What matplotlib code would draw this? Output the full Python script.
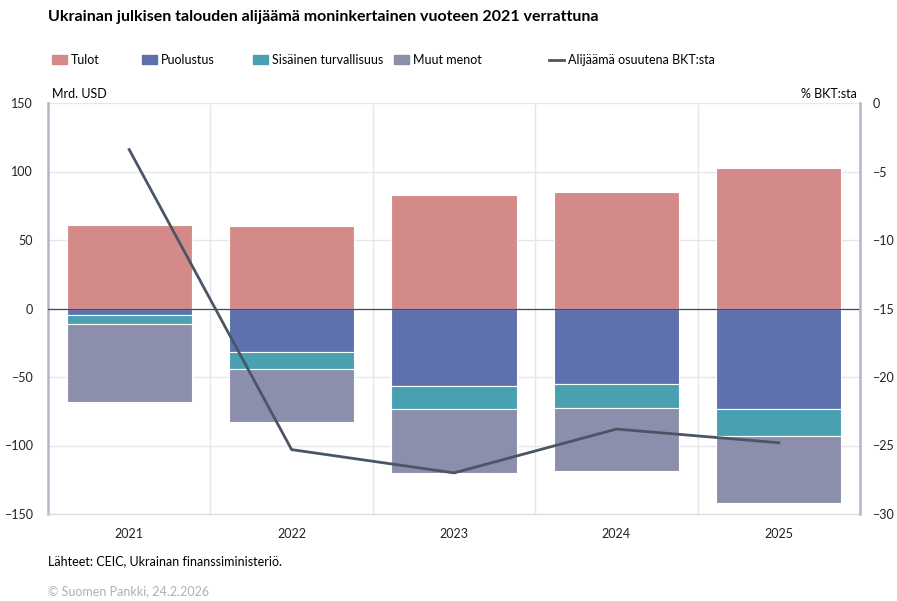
import numpy as np
import matplotlib.pyplot as plt
from matplotlib.patches import Patch
from matplotlib.lines import Line2D

plt.rcParams['font.family'] = ['Lato', 'DejaVu Sans']

# data
vuodet = ['2021', '2022', '2023', '2024', '2025']
tulot = [60.6, 59.9, 83.2, 85.4, 102.2]
puolustus = [-4.6, -31.4, -56.7, -55.2, -73.2]
sisainen = [-6.4, -12.6, -16.3, -17.5, -20.0]
muut = [-57.0, -39.0, -47.0, -45.8, -49.0]
alijaama = [-3.4, -25.3, -27.0, -23.8, -24.8]

c_tulot = '#d48a88'
c_puol = '#5e71ad'
c_sis = '#48a0b0'
c_muut = '#8c8fac'
c_line = '#4a5566'
grid = '#e6e6ea'

fig = plt.figure(figsize=(8.97, 6.01), dpi=100)
ax = fig.add_axes([48/897, 87/601, 812/897, 411/601])

x = np.arange(len(vuodet))
w = 0.77
ek = dict(edgecolor='white', linewidth=0.8, zorder=2)
ax.bar(x, tulot, w, color=c_tulot, **ek)
ax.bar(x, puolustus, w, color=c_puol, **ek)
b1 = np.array(puolustus)
ax.bar(x, sisainen, w, bottom=b1, color=c_sis, **ek)
b2 = b1 + np.array(sisainen)
ax.bar(x, muut, w, bottom=b2, color=c_muut, **ek)
ax.axhline(0, color='#3d4a7a', lw=0.9, zorder=3)

ax.set_xlim(-0.5, len(vuodet) - 0.5)
ax.set_ylim(-150, 150)
ax.set_yticks(range(-150, 151, 50))
ax.set_xticks(x)
ax.set_xticklabels(vuodet)
ax.set_xticks(x[:-1] + 0.5, minor=True)
ax.grid(axis='y', color=grid, lw=1, zorder=0)
ax.grid(axis='x', which='minor', color=grid, lw=1, zorder=0)
ax.set_axisbelow(True)
ax.tick_params(which='both', length=0, labelsize=9, colors='#222222')
ax.tick_params(axis='x', pad=10)
ax.tick_params(axis='y', pad=11)
ax.spines['top'].set_visible(False)
ax.spines['bottom'].set_color('#d8d8de')
ax.spines['left'].set_color('#b4b6c8')
ax.spines['left'].set_linewidth(1.8)
ax.spines['right'].set_visible(False)

ax2 = ax.twinx()
ax2.plot(x, alijaama, color=c_line, lw=2, zorder=5)
ax2.set_ylim(-30, 0)
ax2.set_yticks(range(-30, 1, 5))
ax2.tick_params(length=0, labelsize=9, colors='#222222', pad=9)
ax2.spines['top'].set_visible(False)
ax2.spines['left'].set_visible(False)
ax2.spines['bottom'].set_visible(False)
ax2.spines['right'].set_color('#b4b6c8')
ax2.spines['right'].set_linewidth(1.8)

fig.text(48/897, 1 - 17/601, 'Ukrainan julkisen talouden alijäämä moninkertainen vuoteen 2021 verrattuna',
         fontsize=11.5, fontweight='bold', va='center', ha='left')
fig.text(52/897, 1 - 94/601, 'Mrd. USD', fontsize=9, va='center', ha='left')
fig.text(857/897, 1 - 94/601, '% BKT:sta', fontsize=9, va='center', ha='right')

# legenda
hands = [Patch(color=c_tulot), Patch(color=c_puol), Patch(color=c_sis),
         Patch(color=c_muut), Line2D([], [], color=c_line, lw=2)]
nimet = ['Tulot', 'Puolustus', 'Sisäinen turvallisuus', 'Muut menot',
         'Alijäämä osuutena BKT:sta']
xs = [52, 142, 253, 394, 549]
for h, n, xx in zip(hands, nimet, xs):
    fig.legend([h], [n], loc='center left', bbox_to_anchor=(xx/897, 1 - 60/601),
               frameon=False, fontsize=9, handlelength=1.2, handleheight=0.7,
               handletextpad=0.3, borderpad=0, borderaxespad=0)

fig.text(48/897, 1 - 561/601, 'Lähteet: CEIC, Ukrainan finanssiministeriö.', fontsize=9,
         va='center', ha='left')
fig.text(48/897, 1 - 591/601, '© Suomen Pankki, 24.2.2026', fontsize=9, color='#b0b0b0',
         va='center', ha='left')

fig.savefig('out.png', dpi=100)
